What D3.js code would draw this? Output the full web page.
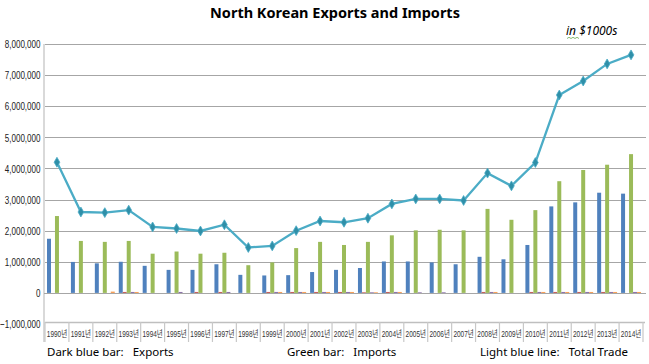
<!DOCTYPE html>
<html><head><meta charset="utf-8">
<script src="https://cdn.jsdelivr.net/npm/d3@7"></script>
<style>
body{margin:0;background:#fff;}
svg{display:block;}
</style></head>
<body><svg id="chart" width="649" height="364"></svg>
<script>
const years = ["1990","1991","1992","1993","1994","1995","1996","1997","1998","1999","2000","2001","2002","2003","2004","2005","2006","2007","2008","2009","2010","2011","2012","2013","2014"];
const exportsVals = [1740000,995000,950000,1000000,870000,740000,740000,920000,580000,560000,570000,670000,740000,800000,1010000,1010000,980000,920000,1160000,1080000,1540000,2780000,2910000,3220000,3190000];
const importsVals = [2470000,1670000,1640000,1670000,1260000,1330000,1260000,1290000,890000,980000,1440000,1640000,1540000,1640000,1850000,2010000,2030000,2010000,2700000,2350000,2660000,3590000,3950000,4120000,4460000];
const smallRed    = [0,0,0,30000,0,0,30000,30000,0,30000,30000,30000,30000,20000,30000,0,0,0,30000,0,30000,30000,30000,30000,0];
const smallPurple = [0,0,0,30000,0,30000,0,30000,0,30000,30000,30000,30000,20000,30000,20000,20000,0,30000,0,30000,30000,30000,30000,30000];
const smallOrange = [0,0,40000,30000,0,0,0,0,0,30000,30000,30000,30000,20000,30000,0,0,0,30000,0,30000,30000,30000,30000,30000];
const totalTrade  = [4200000,2600000,2580000,2660000,2120000,2070000,1990000,2190000,1460000,1510000,2000000,2310000,2270000,2400000,2860000,3020000,3020000,2970000,3850000,3440000,4190000,6360000,6810000,7360000,7650000];
const yTicks = [-1000000,0,1000000,2000000,3000000,4000000,5000000,6000000,7000000,8000000];
const seriesNames = ["Exports","Red","Imports","Purple","Orange"];
const seriesColors = ["#4F81BD","#C0504D","#9BBB59","#8064A2","#F79646"];
const seriesVals = [exportsVals, smallRed, importsVals, smallPurple, smallOrange];

const svg = d3.select("#chart");
const pLeft = 45, pRight = 643, pTop = 44, pBottom = 324;

const x = d3.scaleBand().domain(years).range([pLeft, pRight]).padding(0);
const y = d3.scaleLinear().domain([-1000000, 8000000]).range([pBottom, pTop]);
const xs = d3.scaleBand().domain(seriesNames).range([2, x.bandwidth() - 2]).padding(0);

// title
svg.append("text").attr("x", 335).attr("y", 18).attr("text-anchor", "middle")
  .attr("font-family", "Noto Sans, sans-serif").attr("font-weight", "bold").attr("font-size", 14.5)
  .attr("fill", "#000").text("North Korean Exports and Imports");
svg.append("text").attr("x", 566).attr("y", 35)
  .attr("font-family", "Noto Sans, sans-serif").attr("font-style", "italic").attr("font-size", 12)
  .attr("fill", "#000").text("in $1000s");
svg.append("path").attr("d", "M567,38.5 l2,-1.2 l2,1.2 l2,-1.2 l2,1.2 l2,-1.2 l2,1.2")
  .attr("fill", "none").attr("stroke", "#6aa84f").attr("stroke-width", 0.8);

// gridlines
svg.append("g").selectAll("line").data(yTicks.filter(d => d > -1000000)).join("line")
  .attr("x1", pLeft - 1).attr("x2", 646)
  .attr("y1", d => Math.round(y(d)) + 0.5).attr("y2", d => Math.round(y(d)) + 0.5)
  .attr("stroke", "#a6a6a6").attr("stroke-width", 1.2);

// y axis via d3
const yAxis = d3.axisLeft(y).tickValues(yTicks).tickSize(0).tickPadding(5)
  .tickFormat(d3.format(","));
const gy = svg.append("g").attr("transform", `translate(${pLeft - 1},0)`).call(yAxis);
gy.select(".domain").attr("stroke", "#d9d9d9").attr("stroke-width", 2).attr("d", `M0,${pTop}V342`);
gy.selectAll("text").attr("font-family", "Liberation Sans, Arial, sans-serif")
  .attr("font-size", 11.5).attr("fill", "#222").attr("transform", "scale(0.7,1)");

// x axis box
svg.append("line").attr("x1", pLeft).attr("x2", pRight + 2).attr("y1", pBottom - 1.5).attr("y2", pBottom - 1.5)
  .attr("stroke", "#bfbfbf").attr("stroke-width", 1.5);
const xAxis = d3.axisBottom(x).tickSize(0).tickPadding(7).tickFormat(d => d + "년");
const gx = svg.append("g").attr("transform", `translate(0,${pBottom})`).call(xAxis);
gx.select(".domain").remove();
gx.selectAll("text").attr("font-family", "Liberation Sans, Noto Sans CJK KR, sans-serif")
  .attr("font-size", 9).attr("fill", "#333").attr("transform", "scale(0.72,1)");
svg.append("g").selectAll("line").data(years.concat(["end"])).join("line")
  .attr("x1", d => d === "end" ? pRight : x(d)).attr("x2", d => d === "end" ? pRight : x(d))
  .attr("y1", pBottom - 2).attr("y2", 342)
  .attr("stroke", "#c8c8c8").attr("stroke-width", 1.2);

// bars
const groups = svg.append("g").selectAll("g").data(years).join("g")
  .attr("transform", d => `translate(${x(d)},0)`);
groups.selectAll("rect").data((d, i) => seriesNames.map((s, k) => ({s, v: seriesVals[k][i], c: seriesColors[k]})))
  .join("rect")
  .attr("x", d => xs(d.s)).attr("width", xs.bandwidth())
  .attr("y", d => y(d.v)).attr("height", d => Math.max(0, y(0) - y(d.v)))
  .attr("fill", d => d.c);

// zero line
svg.append("line").attr("x1", pLeft - 1).attr("x2", 646).attr("y1", Math.round(y(0)) + 0.5).attr("y2", Math.round(y(0)) + 0.5)
  .attr("stroke", "#a6a6a6").attr("stroke-width", 1.2);

// total trade line
const line = d3.line().x((d, i) => x(years[i]) + x.bandwidth() / 2).y(d => y(d));
svg.append("path").datum(totalTrade).attr("d", line)
  .attr("fill", "none").attr("stroke", "#4BACC6").attr("stroke-width", 2.3);
svg.append("g").selectAll("path").data(totalTrade).join("path")
  .attr("transform", (d, i) => `translate(${x(years[i]) + x.bandwidth() / 2},${y(d)})`)
  .attr("d", d3.symbol().type(d3.symbolDiamond).size(28))
  .attr("fill", "#2f8fa8").attr("stroke", "#4BACC6").attr("stroke-width", 0.8);

// captions
const caps = [
  {x: 47, t: "Dark blue bar:   Exports"},
  {x: 287, t: "Green bar:   Imports"},
  {x: 480, t: "Light blue line:   Total Trade"}
];
svg.append("g").selectAll("text").data(caps).join("text")
  .attr("x", d => d.x).attr("y", 356).attr("font-family", "Noto Sans, sans-serif").attr("font-size", 11.5)
  .attr("fill", "#000").style("white-space", "pre").text(d => d.t);
</script></body></html>
